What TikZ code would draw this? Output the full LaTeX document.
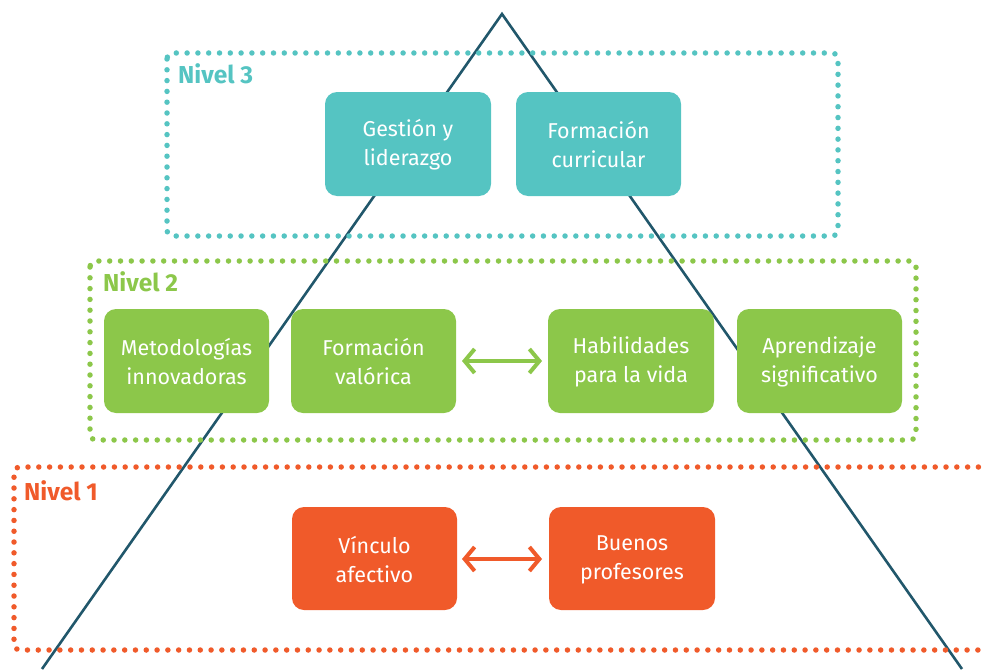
\documentclass[tikz,border=0pt]{standalone}
\usepackage{fontspec}
\setmainfont{Fira Sans}
\usetikzlibrary{arrows.meta}
\definecolor{teal3}{HTML}{55C4C2}
\definecolor{green2}{HTML}{8CC74A}
\definecolor{orange1}{HTML}{F05A2A}
\definecolor{lineblue}{HTML}{21576B}
\tikzset{
  box/.style={rounded corners=12pt, text=white, font=\fontsize{21.5}{29}\selectfont, align=center, inner sep=0pt},
  dotframe/.style={line width=5.5pt, line cap=round, dash pattern=on 0pt off 10.8pt, rounded corners=6pt},
  lvl/.style={font=\fontsize{24.5}{28}\selectfont\bfseries, anchor=north west, inner sep=0pt},
  dbl/.style={line width=4pt, {Straight Barb[length=10pt,width=24pt,line width=4pt]}-{Straight Barb[length=10pt,width=24pt,line width=4pt]}},
}
\begin{document}
\begin{tikzpicture}[x=1pt,y=-1pt]
\useasboundingbox (0,0) rectangle (982,669);
% triangle
\coordinate (apex) at (502,14);
\coordinate (bl) at (42,669);
\coordinate (br) at (962,669);
\draw[lineblue, line width=2.6pt] (bl) -- (apex) -- (br);
% level frames
\draw[dotframe, teal3] (167,53) rectangle (838,236);
\draw[dotframe, green2] (90,261) rectangle (916,440);
\draw[dotframe, orange1] (1000,467) -- (14,467) -- (14,650) -- (1000,650);
% labels
\node[lvl, text=teal3] (n3) at (178,63) {Nivel 3};
\node[lvl, text=green2] (n2) at (103,271) {Nivel 2};
\node[lvl, text=orange1] (n1) at (24,480) {Nivel 1};
% nivel 3 boxes
\fill[teal3, rounded corners=12pt] (325,92) rectangle (491,196);
\node[box] (gest) at (408,145) {Gestión y\\liderazgo};
\fill[teal3, rounded corners=12pt] (516,92) rectangle (681,196);
\node[box] (form) at (598.5,145) {Formación\\curricular};
% nivel 2 boxes
\fill[green2, rounded corners=12pt] (104,309) rectangle (269,413);
\node[box] (met) at (186.5,362) {Metodologías\\innovadoras};
\fill[green2, rounded corners=12pt] (291,309) rectangle (456,413);
\node[box] (val) at (373.5,362) {Formación\\valórica};
\fill[green2, rounded corners=12pt] (548,309) rectangle (714,413);
\node[box] (hab) at (631,362) {Habilidades\\para la vida};
\fill[green2, rounded corners=12pt] (737,309) rectangle (902,413);
\node[box] (apr) at (819.5,362) {Aprendizaje\\significativo};
% nivel 1 boxes
\fill[orange1, rounded corners=12pt] (292,507) rectangle (457,610);
\node[box] (vin) at (374.5,560) {Vínculo\\afectivo};
\fill[orange1, rounded corners=12pt] (549,507) rectangle (715,610);
\node[box] (bue) at (632,560) {Buenos\\profesores};
% arrows
\coordinate (ga) at (462,361); \coordinate (gb) at (542,361);
\draw[dbl, green2] (ga) -- (gb);
\coordinate (oa) at (462,559); \coordinate (ob) at (542,559);
\draw[dbl, orange1] (oa) -- (ob);
\end{tikzpicture}
\end{document}
